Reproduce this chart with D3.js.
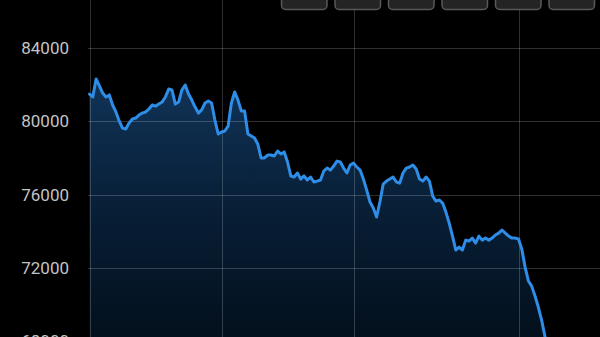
<!DOCTYPE html>
<html>
<head>
<meta charset="utf-8">
<script src="https://cdn.jsdelivr.net/npm/d3@7"></script>
<style>
  html, body { margin: 0; padding: 0; background: #000; }
  svg { display: block; }
</style>
</head>
<body>
<svg id="chart" width="600" height="337"></svg>
<script>
// data: one close per trading day
const prices = [
  81490, 81330, 82310, 81930, 81540, 81330, 81440, 80890, 80510, 80020,
  79630, 79580, 79910, 80130, 80180, 80340, 80450, 80510, 80670, 80890,
  80830, 80940, 81050, 81330, 81760, 81710, 80940, 81050, 81710, 81980,
  81490, 81160, 80780, 80450, 80620, 81000, 81110, 81000, 80070, 79310,
  79420, 79470, 79740, 81000, 81600, 81160, 80560, 80560, 79310, 79200,
  79090, 78760, 78000, 78000, 78160, 78160, 78110, 78380, 78220, 78330,
  77780, 77020, 76960, 77180, 76850, 77020, 76800, 76960, 76690, 76740,
  76800, 77290, 77450, 77340, 77560, 77830, 77780, 77450, 77180, 77620,
  77720, 77510, 77340, 76850, 76250, 75600, 75270, 74780, 75600, 76580,
  76740, 76850, 76960, 76690, 76630, 77180, 77450, 77510, 77620, 77400,
  76850, 76740, 76960, 76740, 75920, 75650, 75710, 75540, 75050, 74450,
  73740, 72980, 73140, 72980, 73520, 73470, 73630, 73360, 73740, 73520,
  73630, 73520, 73630, 73800, 73900, 74070, 73900, 73740, 73630, 73630,
  73580, 73030, 72050, 71290, 71010, 70470, 69870, 69160, 68280, 67410
];
const yTicks = [68000, 72000, 76000, 80000, 84000];
const gridDays = [0, 40, 80, 130];
const rangeButtons = ['1D', '1W', '1M', '3M', '1Y', '5Y'];

const svg = d3.select('#chart');
const W = 600;
const left = 88;

const x = d3.scaleLinear().domain([0, 139]).range([89.5, 548.2]);
const y = d3.scaleLinear().domain([68000, 84000]).range([341.3, 48]);

// gradient under the line
const defs = svg.append('defs');
const grad = defs.append('linearGradient')
  .attr('id', 'fillGrad')
  .attr('gradientUnits', 'userSpaceOnUse')
  .attr('x1', 0).attr('x2', 0).attr('y1', 75).attr('y2', 337);
grad.append('stop').attr('offset', 0).attr('stop-color', '#113459');
grad.append('stop').attr('offset', 0.5).attr('stop-color', '#081f37');
grad.append('stop').attr('offset', 1).attr('stop-color', '#03101d');

const area = d3.area()
  .x((d, i) => x(i))
  .y0(400)
  .y1(d => y(d));
const line = d3.line()
  .x((d, i) => x(i))
  .y(d => y(d));

svg.append('path')
  .datum(prices)
  .attr('d', area)
  .attr('fill', 'url(#fillGrad)');

// grid
const grid = svg.append('g').attr('stroke', 'rgba(255,255,255,0.19)').attr('stroke-width', 1);
grid.selectAll('line.h')
  .data(yTicks)
  .enter().append('line')
    .attr('class', 'h')
    .attr('x1', left).attr('x2', W)
    .attr('y1', d => Math.round(y(d)) + 0.5)
    .attr('y2', d => Math.round(y(d)) + 0.5);
grid.selectAll('line.v')
  .data(gridDays)
  .enter().append('line')
    .attr('class', 'v')
    .attr('x1', d => Math.round(x(d)) + 0.5)
    .attr('x2', d => Math.round(x(d)) + 0.5)
    .attr('y1', 0).attr('y2', 337);

svg.append('path')
  .datum(prices)
  .attr('d', line)
  .attr('fill', 'none')
  .attr('stroke', '#2e8de6')
  .attr('stroke-width', 3)
  .attr('stroke-linejoin', 'round')
  .attr('stroke-linecap', 'round');

// y labels
const yAxis = d3.axisLeft(y).tickValues(yTicks).tickSize(0).tickPadding(0).tickFormat(d3.format('d'));
const ax = svg.append('g').attr('transform', 'translate(69,0)').call(yAxis);
ax.select('.domain').remove();
ax.selectAll('text')
  .attr('fill', '#c4c4c4')
  .style('font-family', 'Roboto, sans-serif')
  .style('font-size', '17px');

// range buttons, cut off at the top
const btnW = 45.5, pitch = 53.5, btnX0 = 281.5;
svg.append('g').selectAll('rect')
  .data(rangeButtons)
  .enter().append('rect')
    .attr('x', (d, i) => btnX0 + i * pitch)
    .attr('y', -12)
    .attr('width', btnW)
    .attr('height', 21.5)
    .attr('rx', 4)
    .attr('fill', '#242424')
    .attr('stroke', '#585858')
    .attr('stroke-width', 1.5);
</script>
</body>
</html>
